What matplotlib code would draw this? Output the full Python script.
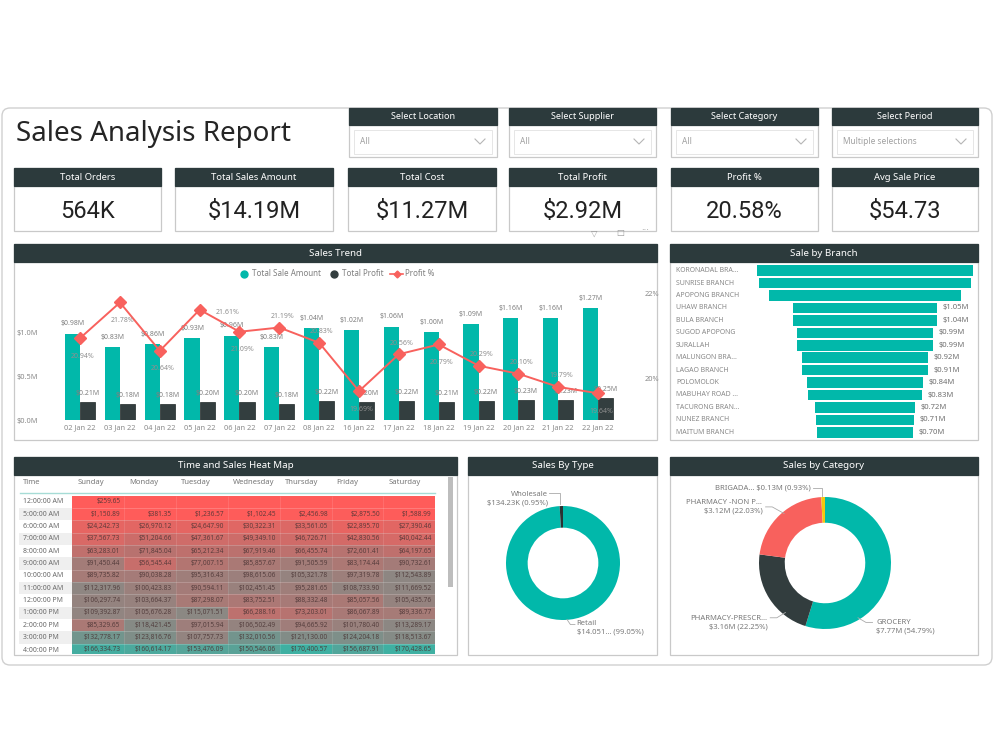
import numpy as np
import matplotlib.pyplot as plt
from matplotlib.patches import Rectangle, FancyBboxPatch
from matplotlib.lines import Line2D
from matplotlib.colors import LinearSegmentedColormap

plt.rcParams['font.family'] = ['Noto Sans', 'DejaVu Sans']

# ==============================
# Data
# ==============================

slicer_titles = ['Select Location', 'Select Supplier', 'Select Category', 'Select Period']
slicer_values = ['All', 'All', 'All', 'Multiple selections']

kpi_titles = ['Total Orders', 'Total Sales Amount', 'Total Cost', 'Total Profit', 'Profit %', 'Avg Sale Price']
kpi_values = ['564K', '$14.19M', '$11.27M', '$2.92M', '20.58%', '$54.73']

trend_dates = ['02 Jan 22', '03 Jan 22', '04 Jan 22', '05 Jan 22', '06 Jan 22', '07 Jan 22', '08 Jan 22',
               '16 Jan 22', '17 Jan 22', '18 Jan 22', '19 Jan 22', '20 Jan 22', '21 Jan 22', '22 Jan 22']
trend_sales = [0.98, 0.83, 0.86, 0.93, 0.96, 0.83, 1.04, 1.02, 1.06, 1.00, 1.09, 1.16, 1.16, 1.27]
trend_profit = [0.21, 0.18, 0.18, 0.20, 0.20, 0.18, 0.22, 0.20, 0.22, 0.21, 0.22, 0.23, 0.23, 0.25]
trend_pct = [20.94, 21.78, 20.64, 21.61, 21.09, 21.19, 20.83, 19.69, 20.56, 20.79, 20.29, 20.10, 19.79, 19.64]

branch_names = ['KORONADAL BRA...', 'SUNRISE BRANCH', 'APOPONG BRANCH', 'UHAW BRANCH', 'BULA BRANCH',
                'SUGOD APOPONG', 'SURALLAH', 'MALUNGON BRA...', 'LAGAO BRANCH', 'POLOMOLOK',
                'MABUHAY ROAD ...', 'TACURONG BRAN...', 'NUNEZ BRANCH', 'MAITUM BRANCH']
branch_sales = [1.56, 1.53, 1.39, 1.05, 1.04, 0.99, 0.99, 0.92, 0.91, 0.84, 0.83, 0.72, 0.71, 0.70]

heat_days = ['Sunday', 'Monday', 'Tuesday', 'Wednesday', 'Thursday', 'Friday', 'Saturday']
heat_times = ['12:00:00 AM', '5:00:00 AM', '6:00:00 AM', '7:00:00 AM', '8:00:00 AM', '9:00:00 AM',
              '10:00:00 AM', '11:00:00 AM', '12:00:00 PM', '1:00:00 PM', '2:00:00 PM', '3:00:00 PM',
              '4:00:00 PM']
heat_values = [
    [259.65, None, None, None, None, None, None],
    [1150.89, 381.35, 1236.57, 1102.45, 2456.98, 2875.50, 1588.99],
    [24242.73, 26970.12, 24647.90, 30322.31, 33561.05, 22895.70, 27390.46],
    [37567.73, 51204.66, 47361.67, 49349.10, 46726.71, 42830.56, 40042.44],
    [63283.01, 71845.04, 65212.34, 67919.46, 66455.74, 72601.41, 64197.65],
    [91450.44, 56545.44, 77007.15, 85857.67, 91505.59, 83174.44, 90732.61],
    [89735.82, 90038.28, 95316.43, 98615.06, 105321.78, 97319.78, 112543.89],
    [112317.96, 100423.83, 90594.11, 102451.45, 95281.65, 108733.90, 111669.52],
    [106297.74, 103664.37, 87298.07, 83752.51, 88332.48, 85057.56, 105435.76],
    [109392.87, 105676.28, 115071.51, 66288.16, 73203.01, 86067.89, 89336.77],
    [85329.65, 118421.45, 97015.94, 106502.49, 94665.92, 101780.40, 113289.17],
    [132778.17, 123816.76, 107757.73, 132010.56, 121130.00, 124204.18, 118513.67],
    [166334.73, 160614.17, 153476.09, 150546.06, 170400.57, 156687.91, 170428.65],
]

type_names = ['Retail', 'Wholesale']
type_sales = [14051.0, 134.23]  # $K
type_labels = ['Retail\n$14.051... (99.05%)', 'Wholesale\n$134.23K (0.95%)']

cat_names = ['GROCERY', 'PHARMACY-PRESCR...', 'PHARMACY -NON P...', 'BRIGADA...']
cat_sales = [7.77, 3.16, 3.12, 0.13]
cat_pct = [54.79, 22.25, 22.03, 0.93]

# ==============================
# Styles
# ==============================

DARK = '#2C3A3C'
TEAL = '#01B8AA'
BAR_DARK = '#333E3F'
RED = '#F8615D'
YELLOW = '#F2C80F'
BORDER = '#c9c9c9'

W, H = 1000, 750
fig = plt.figure(figsize=(10, 7.5), dpi=100)
fig.patch.set_facecolor('white')


def px_axes(x0, y0, x1, y1):
    a = fig.add_axes([x0 / W, 1 - y1 / H, (x1 - x0) / W, (y1 - y0) / H])
    a.set_facecolor('none')
    return a


bg = px_axes(0, 0, W, H)
bg.set_xlim(0, W)
bg.set_ylim(H, 0)
bg.axis('off')

bg.add_patch(FancyBboxPatch((2, 108), 990, 557, boxstyle='round,pad=0,rounding_size=8',
                            facecolor='white', edgecolor='#d0d0d0', lw=1))


def panel(x0, y0, x1, y1, title, head_h=18, fs=7):
    bg.add_patch(Rectangle((x0, y0), x1 - x0, y1 - y0, facecolor='white', edgecolor=BORDER, lw=0.9))
    bg.add_patch(Rectangle((x0, y0), x1 - x0, head_h, facecolor=DARK, edgecolor=DARK, lw=0.9))
    bg.text((x0 + x1) / 2, y0 + head_h / 2, title, color='white', fontsize=fs,
            fontweight='bold', ha='center', va='center')


# Title
bg.text(16, 134, 'Sales Analysis Report', fontsize=20, color='#252525', va='center', ha='left')

# Slicers
slicer_x = [(349, 497), (509, 656), (671, 818), (832, 978)]
for (x0, x1), t, v in zip(slicer_x, slicer_titles, slicer_values):
    panel(x0, 108, x1, 157, t, head_h=17, fs=6.5)
    bg.add_patch(Rectangle((x0 + 5, 130), x1 - x0 - 10, 24, facecolor='white', edgecolor='#e2e2e2', lw=0.6))
    bg.text(x0 + 11, 142, v, fontsize=6, color='#a0a0a0', va='center')
    bg.plot([x1 - 22, x1 - 17, x1 - 12], [139, 144, 139], color='#b5b5b5', lw=0.8)

# KPI cards
card_x = [(14, 161), (175, 333), (348, 496), (509, 656), (671, 818), (832, 978)]
for (x0, x1), t, v in zip(card_x, kpi_titles, kpi_values):
    panel(x0, 168, x1, 231, t, head_h=18, fs=6.8)
    bg.text((x0 + x1) / 2, 211, v, fontsize=17, color='#222222', ha='center', va='center',
            family=['Roboto', 'DejaVu Sans'])

# visual header icons
bg.text(594, 233, '\u25bd', fontsize=6, color='#999999', ha='center', va='center')
bg.text(620, 233, '\u25a1', fontsize=6, color='#999999', ha='center', va='center')
bg.text(645, 231, '\u00b7\u00b7\u00b7', fontsize=7, color='#999999', ha='center', va='center')

# ==============================
# Sales Trend
# ==============================
panel(14, 244, 657, 440, 'Sales Trend')

ax = px_axes(55, 280, 620, 420)
x = np.arange(len(trend_dates))
bw = 0.38
ax.bar(x - bw / 2, trend_sales, width=bw, color=TEAL, zorder=2)
ax.bar(x + bw / 2, trend_profit, width=bw, color=BAR_DARK, edgecolor='#1f2727', lw=0.5, zorder=2)
ax.set_xlim(-0.63, len(x) - 1 + 0.55)
ax.set_ylim(0, 140 / 88)
ax.set_yticks([0, 0.5, 1.0])
ax.set_yticklabels(['$0.0M', '$0.5M', '$1.0M'])
ax.set_xticks(x)
ax.set_xticklabels(trend_dates)
ax.tick_params(length=0, labelsize=5.3, labelcolor='#8a8a8a', pad=3)
ax.tick_params(axis='y', pad=12)
for s in ax.spines.values():
    s.set_visible(False)

for i in range(len(x)):
    ax.annotate(f'${trend_sales[i]:.2f}M', (x[i] - bw / 2, trend_sales[i]), xytext=(0, 6),
                textcoords='offset points', ha='center', fontsize=5, color='#808080')
    ax.annotate(f'${trend_profit[i]:.2f}M', (x[i] + bw / 2, trend_profit[i]), xytext=(0, 5),
                textcoords='offset points', ha='center', fontsize=5, color='#808080')

ax2 = ax.twinx()
ax2.set_facecolor('none')
ax2.plot(x, trend_pct, color=RED, lw=1.4, marker='D', markersize=6, zorder=3)
ax2.set_ylim(19.01, 22.31)
ax2.set_yticks([20, 22])
ax2.set_yticklabels(['20%', '22%'])
ax2.tick_params(length=0, labelsize=5.3, labelcolor='#8a8a8a', pad=18)
for s in ax2.spines.values():
    s.set_visible(False)

pct_label_pos = ['below', 'below', 'below', 'right', 'below', 'above', 'above',
                 'below', 'above', 'below', 'above', 'above', 'above', 'below']
offsets = {'below': (2, -13), 'above': (2, 8), 'right': (20, -2)}
for i, pos in enumerate(pct_label_pos):
    ax2.annotate(f'{trend_pct[i]:.2f}%', (x[i], trend_pct[i]), xytext=offsets[pos],
                 textcoords='offset points', ha='center', va='center', fontsize=5, color='#8f8f8f')

legend_handles = [
    Line2D([], [], marker='o', ls='none', markerfacecolor=TEAL, markeredgecolor=TEAL, markersize=5),
    Line2D([], [], marker='o', ls='none', markerfacecolor=BAR_DARK, markeredgecolor=BAR_DARK, markersize=5),
    Line2D([], [], color=RED, marker='D', markersize=3.5, lw=1.2),
]
ax.legend(legend_handles, ['Total Sale Amount', 'Total Profit', 'Profit %'], ncol=3, frameon=False,
          fontsize=5.8, labelcolor='#808080', handletextpad=0.2, columnspacing=0.8, handlelength=1.6,
          loc='center', bbox_to_anchor=(336 / W, 1 - 274 / H), bbox_transform=fig.transFigure)

# ==============================
# Sale by Branch
# ==============================
panel(670, 244, 978, 440, 'Sale by Branch')

axb = px_axes(672, 262, 976, 440)
yb = np.arange(len(branch_names))
vals = np.array(branch_sales)
axb.barh(yb, vals, left=-vals / 2, height=0.84, color=TEAL)
bx_min, bx_max = (672 - 865) / 138, (976 - 865) / 138
axb.set_xlim(bx_min, bx_max)
axb.set_ylim((440 - 270.7) / 12.43, (262 - 270.7) / 12.43)
axb.axis('off')
for i, (n, v) in enumerate(zip(branch_names, branch_sales)):
    axb.text(bx_min + 0.03, i, n, fontsize=5, color='#8a8a8a', va='center', ha='left')
    if v / 2 + 0.25 < bx_max:
        axb.text(v / 2 + 0.04, i, f'${v:.2f}M', fontsize=5.5, color='#707070', va='center', ha='left')

# ==============================
# Heat map
# ==============================
panel(14, 457, 457, 655, 'Time and Sales Heat Map')

axh = px_axes(15, 475, 456, 654)
col_w, row_h = 51.9, 12.36
axh.set_xlim((15 - 72) / col_w, (456 - 72) / col_w)
axh.set_ylim((654 - 495.5) / row_h, (475 - 495.5) / row_h)
axh.axis('off')

grid = np.array([[np.nan if v is None else v for v in row] for row in heat_values], dtype=float)
cmap = LinearSegmentedColormap.from_list('heat', [(0, '#ff5c5a'), (0.18, '#df6764'), (0.42, '#b8726f'),
                                                  (0.66, '#8e8682'), (1, '#3fb0a2')])
cmap.set_bad('#ff5c5a')
axh.pcolormesh(np.arange(len(heat_days) + 1), np.arange(len(heat_times) + 1), np.ma.masked_invalid(grid),
               cmap=cmap, vmin=0, vmax=np.nanmax(grid), linewidth=0)
axh.hlines(np.arange(1, len(heat_times)), 0, len(heat_days), colors='white', lw=0.4, alpha=0.35)
axh.vlines(np.arange(1, len(heat_days)), 0, len(heat_times), colors='white', lw=0.4, alpha=0.2)

for i, t in enumerate(heat_times):
    if i % 2 == 1:
        axh.add_patch(Rectangle((-1.02, i), 1.02, 1, facecolor='#efefef', edgecolor='none'))
    axh.text(-0.95, i + 0.5, t, fontsize=5, color='#6a6a6a', va='center', ha='left', clip_on=True)
    for j in range(len(heat_days)):
        if not np.isnan(grid[i, j]):
            axh.text(j + 0.93, i + 0.5, f'${grid[i, j]:,.2f}', fontsize=4.7, color='#4a3434',
                     va='center', ha='right', clip_on=True, alpha=0.85)

axh.text(-0.95, -1.08, 'Time', fontsize=5.5, color='#777777', va='center')
for j, d in enumerate(heat_days):
    axh.text(j + 0.1, -1.08, d, fontsize=5.5, color='#777777', va='center')
axh.plot([-1.0, len(heat_days)], [-0.2, -0.2], color='#a6dcd6', lw=1)

bg.add_patch(Rectangle((448, 477), 5, 110, facecolor='#bdbdbd', edgecolor='none'))

# ==============================
# Sales By Type
# ==============================
panel(468, 457, 657, 655, 'Sales By Type')

axt = px_axes(470, 476, 655, 652)
axt.pie(type_sales, colors=[TEAL, '#2a3333'], startangle=90, counterclock=False, radius=1,
        wedgeprops=dict(width=0.38, linewidth=0))
sc = 57
axt.set_xlim((470 - 563) / sc, (655 - 563) / sc)
axt.set_ylim((563 - 652) / sc, (563 - 476) / sc)
axt.set_aspect('auto')
axt.axis('off')
axt.text(-0.27, 1.13, type_labels[1], fontsize=5.5, color='#7a7a7a', ha='right', va='center',
         linespacing=1.3)
axt.plot([-0.24, -0.05, -0.05], [1.23, 1.23, 1.03], color='#aaaaaa', lw=0.6)
axt.text(0.24, -1.14, type_labels[0], fontsize=5.5, color='#7a7a7a', ha='left', va='center',
         linespacing=1.3)
axt.plot([0.07, 0.13, 0.21], [-0.99, -1.08, -1.08], color='#aaaaaa', lw=0.6)

# ==============================
# Sales by Category
# ==============================
panel(670, 457, 978, 655, 'Sales by Category')

axc = px_axes(672, 476, 976, 652)
axc.pie(cat_sales, colors=[TEAL, '#323D3E', RED, YELLOW], startangle=90, counterclock=False, radius=1,
        wedgeprops=dict(width=0.39, linewidth=0))
sc = 66
axc.set_xlim((672 - 825) / sc, (976 - 825) / sc)
axc.set_ylim((563 - 652) / sc, (563 - 476) / sc)
axc.set_aspect('auto')
axc.axis('off')

lab_kw = dict(fontsize=5.5, color='#7a7a7a', va='center', linespacing=1.3)
axc.text(-0.22, 1.14, f'{cat_names[3]} ${cat_sales[3]:.2f}M ({cat_pct[3]:.2f}%)', ha='right', **lab_kw)
axc.plot([-0.18, -0.04, -0.04], [1.14, 1.14, 1.02], color='#aaaaaa', lw=0.6)
axc.text(-0.95, 0.85, f'{cat_names[2]}\n${cat_sales[2]:.2f}M ({cat_pct[2]:.2f}%)', ha='right', **lab_kw)
axc.plot([-0.9, -0.8, -0.62], [0.85, 0.85, 0.75], color='#aaaaaa', lw=0.6)
axc.text(-0.87, -0.9, f'{cat_names[1]}\n${cat_sales[1]:.2f}M ({cat_pct[1]:.2f}%)', ha='right', **lab_kw)
axc.plot([-0.83, -0.73, -0.6], [-0.83, -0.83, -0.75], color='#aaaaaa', lw=0.6)
axc.text(0.78, -0.96, f'{cat_names[0]}\n${cat_sales[0]:.2f}M ({cat_pct[0]:.2f}%)', ha='left', **lab_kw)
axc.plot([0.72, 0.62, 0.5], [-0.9, -0.9, -0.83], color='#aaaaaa', lw=0.6)

fig.savefig('out.png', dpi=100, facecolor='white')
